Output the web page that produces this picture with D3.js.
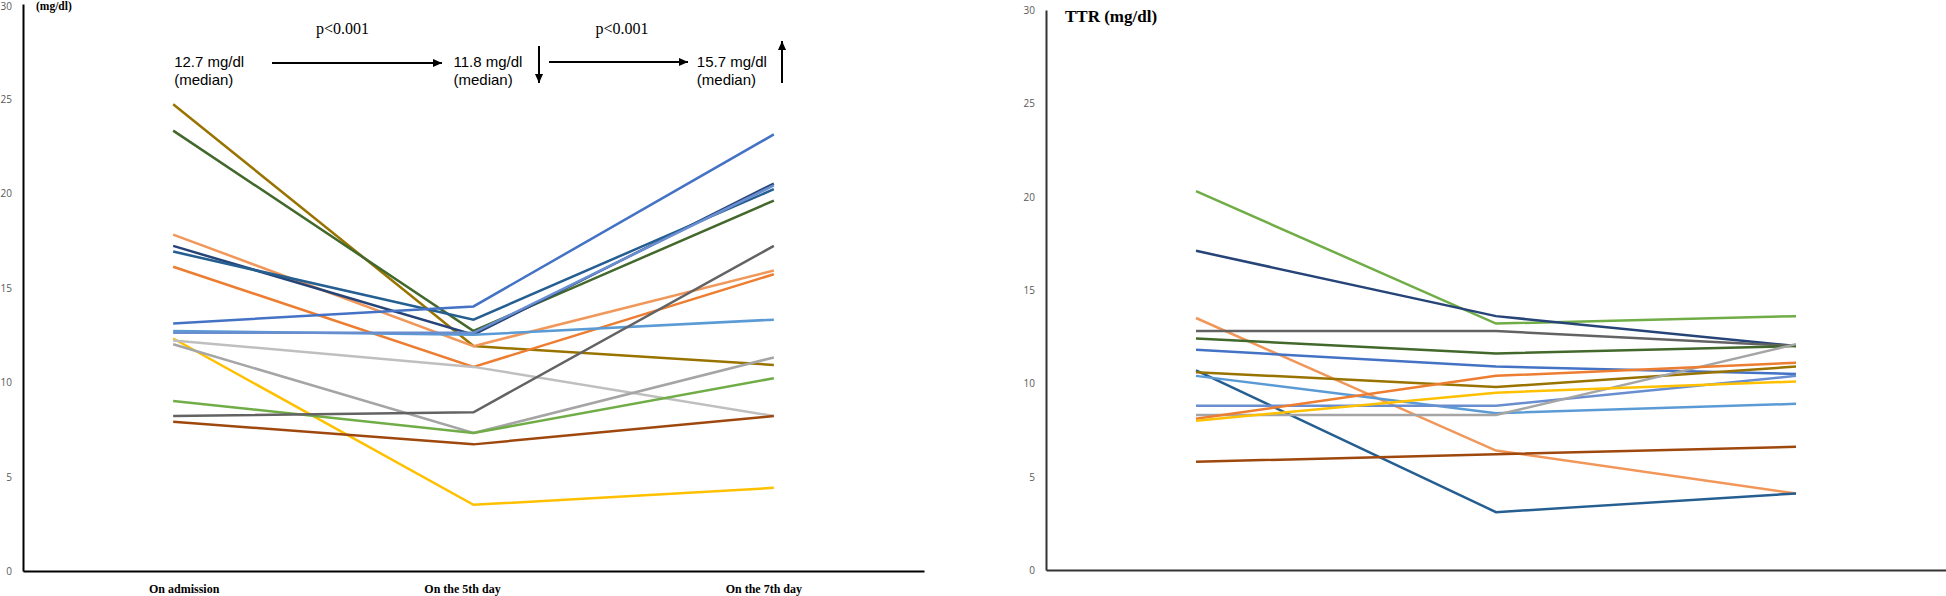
<!DOCTYPE html>
<html><head><meta charset="utf-8">
<script src="https://cdn.jsdelivr.net/npm/d3@7"></script>
<style>body{margin:0;background:#fff}svg{display:block}</style>
</head><body>
<svg id="c" width="1946" height="596"></svg>
<script>
// ---------- DATA ----------
const categories = ["On admission", "On the 5th day", "On the 7th day"];
const yTicks = [0, 5, 10, 15, 20, 25, 30];

// Left panel, each row: admission, 5th day, 7th day
const leftValues = [
  [24.7, 11.9, 10.9],
  [23.3, 12.7, 19.6],
  [17.8, 11.9, 15.9],
  [17.2, 12.5, 20.5],
  [16.9, 13.3, 20.2],
  [16.1, 10.8, 15.7],
  [13.1, 14.0, 23.1],
  [12.7, 12.5, 13.3],
  [12.6, 12.6, 20.4],
  [12.3, 3.5, 4.4],
  [12.2, 10.8, 8.2],
  [12.0, 7.3, 11.3],
  [9.0, 7.3, 10.2],
  [8.2, 8.4, 17.2],
  [7.9, 6.7, 8.2]
];
const leftColors = ["#997300", "#43682B", "#F1975A", "#264478", "#255E91", "#ED7D31", "#4472C4",
  "#5B9BD5", "#698ED0", "#FFC000", "#BFBFBF", "#A5A5A5", "#70AD47", "#636363", "#9E480E"];

// TTR panel (right)
const rightValues = [
  [20.3, 13.2, 13.6],
  [17.1, 13.6, 12.0],
  [13.5, 6.4, 4.1],
  [12.8, 12.8, 12.0],
  [12.4, 11.6, 12.0],
  [11.8, 10.9, 10.5],
  [10.7, 3.1, 4.1],
  [10.6, 9.8, 10.9],
  [10.4, 8.4, 8.9],
  [8.8, 8.8, 10.4],
  [8.3, 8.3, 12.1],
  [8.1, 10.4, 11.1],
  [8.0, 9.5, 10.1],
  [5.8, 6.2, 6.6]
];
const rightColors = ["#70AD47", "#264478", "#F1975A", "#636363", "#43682B", "#4472C4", "#255E91",
  "#997300", "#5B9BD5", "#698ED0", "#A5A5A5", "#ED7D31", "#FFC000", "#9E480E"];

const medians = ["12.7 mg/dl", "11.8 mg/dl", "15.7 mg/dl"];
const pLabels = ["p<0.001", "p<0.001"];

// ---------- DRAW ----------
const svg = d3.select("#c");
const defs = svg.append("defs");
defs.append("marker").attr("id", "ah")
  .attr("viewBox", "0 0 10 10").attr("refX", 10).attr("refY", 5)
  .attr("markerUnits", "userSpaceOnUse").attr("markerWidth", 9).attr("markerHeight", 9)
  .attr("orient", "auto")
  .append("path").attr("d", "M0,0.5 L10,5 L0,9.5 Z").attr("fill", "#000");

function panel(cfg) {
  const x = d3.scaleBand().domain(categories).range([cfg.x0, cfg.x1]);
  const cx = c => x(c) + x.bandwidth() / 2;
  const y = d3.scaleLinear().domain([0, 30]).range([cfg.yBottom, cfg.yTop]);
  const g = svg.append("g");

  // lines
  const line = d3.line().x((d, i) => cx(categories[i])).y(d => y(d));
  g.append("g").selectAll("path").data(cfg.values).join("path")
    .attr("d", d => line(d))
    .attr("fill", "none")
    .attr("stroke", (d, i) => cfg.colors[i])
    .attr("stroke-width", 2.5)
    .attr("stroke-linejoin", "miter");

  // y axis
  const ya = g.append("g").attr("transform", `translate(${cfg.x0},0)`)
    .call(d3.axisLeft(y).tickValues(yTicks).tickSize(0).tickSizeOuter(0).tickPadding(11));
  ya.select(".domain").attr("stroke", cfg.axisColor).attr("stroke-width", 2);
  ya.selectAll("text").attr("font-family", "'Open Sans', sans-serif").attr("font-size", 10)
    .attr("fill", "#595959").attr("dy", d => (y(d) < 8 ? "0.55em" : "0.35em"));

  // x axis
  const xa = g.append("g").attr("transform", `translate(0,${cfg.yBottom})`)
    .call(d3.axisBottom(x).tickSize(0).tickSizeOuter(0).tickPadding(13));
  xa.select(".domain").attr("stroke", cfg.axisColor).attr("stroke-width", 2);
  xa.selectAll("text")
    .text(cfg.showCats ? (d => d) : "")
    .attr("font-family", "'Liberation Serif', 'Times New Roman', serif")
    .attr("font-weight", "bold").attr("font-size", 12).attr("fill", "#000")
    .attr("dx", (d, i) => cfg.catOffsets[i]);

  // unit title
  g.append("text").attr("x", cfg.titleX).attr("y", cfg.titleY)
    .attr("font-family", "'Liberation Serif', 'Times New Roman', serif")
    .attr("font-weight", "bold").attr("font-size", cfg.titleSize).attr("fill", "#000")
    .text(cfg.title);
  return { x: cx, y };
}

const L = panel({
  x0: 23, x1: 924, yTop: 4, yBottom: 571, values: leftValues, colors: leftColors,
  axisColor: "#000", showCats: true, catOffsets: [11, -11, -10],
  title: "(mg/dl)", titleX: 36, titleY: 10, titleSize: 11.5
});
panel({
  x0: 1046, x1: 1946, yTop: 10, yBottom: 570, values: rightValues, colors: rightColors,
  axisColor: "#333", showCats: false, catOffsets: [0, 0, 0],
  title: "TTR (mg/dl)", titleX: 1065, titleY: 22, titleSize: 17
});

// ---------- ANNOTATIONS (left panel) ----------
const ann = svg.append("g");
const medX = [L.x(categories[0]) + 1, L.x(categories[1]) - 20, L.x(categories[2]) - 77];
medians.forEach((m, i) => {
  const t = ann.append("text").attr("x", medX[i]).attr("y", 67)
    .attr("font-family", "'Liberation Sans', Arial, sans-serif").attr("font-size", 15).attr("fill", "#000");
  t.append("tspan").attr("x", medX[i]).text(m);
  t.append("tspan").attr("x", medX[i]).attr("dy", 17.5).text("(median)");
});
const pX = [342.5, 622];
pLabels.forEach((p, i) => {
  ann.append("text").attr("x", pX[i]).attr("y", 34).attr("text-anchor", "middle")
    .attr("font-family", "'Liberation Serif', 'Times New Roman', serif").attr("font-size", 16)
    .attr("fill", "#000").text(p);
});
const arrows = [
  [272, 63, 442, 63],
  [549, 62, 688, 62],
  [539, 46, 539, 83],
  [782, 83, 782, 41]
];
ann.selectAll("line.arr").data(arrows).join("line").attr("class", "arr")
  .attr("x1", d => d[0]).attr("y1", d => d[1]).attr("x2", d => d[2]).attr("y2", d => d[3])
  .attr("stroke", "#000").attr("stroke-width", 2).attr("marker-end", "url(#ah)");
</script>
</body></html>
